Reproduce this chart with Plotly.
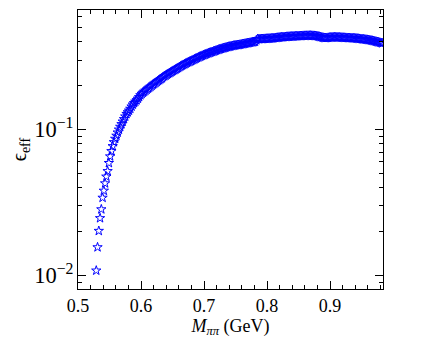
import plotly.graph_objects as go

# pi-pi invariant mass bin centres (GeV)
mass = [
    0.529, 0.531, 0.533, 0.535, 0.537, 0.539, 0.541, 0.543, 0.545, 0.547,
    0.549, 0.551, 0.553, 0.555, 0.557, 0.559, 0.561, 0.563, 0.565, 0.567,
    0.569, 0.571, 0.573, 0.575, 0.577, 0.579, 0.581, 0.583, 0.585, 0.587,
    0.589, 0.591, 0.593, 0.595, 0.597, 0.599, 0.601, 0.603, 0.605, 0.607,
    0.609, 0.611, 0.613, 0.615, 0.617, 0.619, 0.621, 0.623, 0.625, 0.627,
    0.629, 0.631, 0.633, 0.635, 0.637, 0.639, 0.641, 0.643, 0.645, 0.647,
    0.649, 0.651, 0.653, 0.655, 0.657, 0.659, 0.661, 0.663, 0.665, 0.667,
    0.669, 0.671, 0.673, 0.675, 0.677, 0.679, 0.681, 0.683, 0.685, 0.687,
    0.689, 0.691, 0.693, 0.695, 0.697, 0.699, 0.701, 0.703, 0.705, 0.707,
    0.709, 0.711, 0.713, 0.715, 0.717, 0.719, 0.721, 0.723, 0.725, 0.727,
    0.729, 0.731, 0.733, 0.735, 0.737, 0.739, 0.741, 0.743, 0.745, 0.747,
    0.749, 0.751, 0.753, 0.755, 0.757, 0.759, 0.761, 0.763, 0.765, 0.767,
    0.769, 0.771, 0.773, 0.775, 0.777, 0.779, 0.781, 0.783, 0.785, 0.787,
    0.789, 0.791, 0.793, 0.795, 0.797, 0.799, 0.801, 0.803, 0.805, 0.807,
    0.809, 0.811, 0.813, 0.815, 0.817, 0.819, 0.821, 0.823, 0.825, 0.827,
    0.829, 0.831, 0.833, 0.835, 0.837, 0.839, 0.841, 0.843, 0.845, 0.847,
    0.849, 0.851, 0.853, 0.855, 0.857, 0.859, 0.861, 0.863, 0.865, 0.867,
    0.869, 0.871, 0.873, 0.875, 0.877, 0.879, 0.881, 0.883, 0.885, 0.887,
    0.889, 0.891, 0.893, 0.895, 0.897, 0.899, 0.901, 0.903, 0.905, 0.907,
    0.909, 0.911, 0.913, 0.915, 0.917, 0.919, 0.921, 0.923, 0.925, 0.927,
    0.929, 0.931, 0.933, 0.935, 0.937, 0.939, 0.941, 0.943, 0.945, 0.947,
    0.949, 0.951, 0.953, 0.955, 0.957, 0.959, 0.961, 0.963, 0.965, 0.967,
    0.969, 0.971, 0.973, 0.975, 0.977, 0.979, 0.981, 0.983,
]

# efficiency
eff = [
    0.0108, 0.0156, 0.0202, 0.0247, 0.0284, 0.0341, 0.0381, 0.0428, 0.0476, 0.0519,
    0.0590, 0.0655, 0.0712, 0.0770, 0.0820, 0.0865, 0.0908, 0.0955, 0.1000, 0.1045,
    0.1090, 0.1135, 0.1180, 0.1230, 0.1280, 0.1315, 0.1350, 0.1390, 0.1440, 0.1485,
    0.1520, 0.1555, 0.1590, 0.1630, 0.1670, 0.1720, 0.1760, 0.1790, 0.1820, 0.1850,
    0.1880, 0.1910, 0.1940, 0.1970, 0.2000, 0.2035, 0.2065, 0.2095, 0.2125, 0.2155,
    0.2185, 0.2220, 0.2250, 0.2290, 0.2325, 0.2350, 0.2380, 0.2410, 0.2440, 0.2470,
    0.2500, 0.2530, 0.2560, 0.2590, 0.2620, 0.2650, 0.2690, 0.2720, 0.2750, 0.2780,
    0.2810, 0.2840, 0.2870, 0.2900, 0.2925, 0.2950, 0.2980, 0.3010, 0.3040, 0.3070,
    0.3100, 0.3130, 0.3160, 0.3185, 0.3210, 0.3240, 0.3265, 0.3290, 0.3315, 0.3340,
    0.3365, 0.3390, 0.3410, 0.3435, 0.3460, 0.3485, 0.3510, 0.3535, 0.3560, 0.3580,
    0.3600, 0.3620, 0.3640, 0.3660, 0.3680, 0.3700, 0.3715, 0.3730, 0.3750, 0.3765,
    0.3780, 0.3790, 0.3800, 0.3810, 0.3825, 0.3840, 0.3855, 0.3870, 0.3885, 0.3900,
    0.3915, 0.3930, 0.3945, 0.3960, 0.3975, 0.3990, 0.4010, 0.4100, 0.4180, 0.4170,
    0.4175, 0.4180, 0.4185, 0.4190, 0.4195, 0.4200, 0.4205, 0.4210, 0.4215, 0.4220,
    0.4230, 0.4240, 0.4250, 0.4260, 0.4270, 0.4280, 0.4290, 0.4300, 0.4305, 0.4310,
    0.4320, 0.4330, 0.4335, 0.4340, 0.4345, 0.4350, 0.4355, 0.4360, 0.4365, 0.4370,
    0.4375, 0.4380, 0.4385, 0.4390, 0.4395, 0.4400, 0.4400, 0.4405, 0.4405, 0.4410,
    0.4410, 0.4405, 0.4400, 0.4395, 0.4390, 0.4375, 0.4355, 0.4335, 0.4310, 0.4290,
    0.4270, 0.4255, 0.4250, 0.4255, 0.4265, 0.4275, 0.4285, 0.4290, 0.4295, 0.4300,
    0.4300, 0.4295, 0.4290, 0.4285, 0.4280, 0.4275, 0.4270, 0.4265, 0.4260, 0.4255,
    0.4250, 0.4245, 0.4240, 0.4235, 0.4230, 0.4225, 0.4220, 0.4210, 0.4200, 0.4190,
    0.4180, 0.4170, 0.4160, 0.4150, 0.4140, 0.4130, 0.4115, 0.4100, 0.4085, 0.4070,
    0.4050, 0.4030, 0.4010, 0.3990, 0.3970, 0.3950, 0.3930, 0.3910,
]

font_name = "Liberation Serif, Times New Roman, serif"

fig = go.Figure(go.Scatter(
    x=mass,
    y=eff,
    mode="markers",
    marker=dict(symbol="star-open", size=7, color="#0000ff", line=dict(width=1, color="#0000ff")),
    showlegend=False,
))

# page body keeps its default 8px margin, so the figure is 8px smaller
fig.update_layout(
    width=428,
    height=337,
    margin=dict(l=70, r=53, t=2, b=56),
    paper_bgcolor="white",
    plot_bgcolor="white",
    font=dict(family=font_name, size=18, color="black"),
)

fig.update_xaxes(
    range=[0.5, 0.984],
    dtick=0.1,
    tickformat=".1f",
    ticks="inside",
    ticklen=8,
    tickcolor="black",
    showline=True,
    linecolor="black",
    linewidth=1,
    mirror="allticks",
    showgrid=False,
    zeroline=False,
    automargin=False,
    minor=dict(dtick=0.02, ticks="inside", ticklen=4, tickcolor="black", showgrid=False),
    title=dict(text="<i>M</i><sub><i>ππ</i></sub> (GeV)", font=dict(size=18), standoff=4),
)

fig.update_yaxes(
    type="log",
    range=[-2.093, -0.18],
    dtick=1,
    exponentformat="power",
    ticks="inside",
    ticklen=8,
    tickcolor="black",
    showline=True,
    linecolor="black",
    linewidth=1,
    mirror="allticks",
    showgrid=False,
    zeroline=False,
    automargin=False,
    minor=dict(dtick="D1", ticks="inside", ticklen=4, tickcolor="black", showgrid=False),
    title=dict(text="ϵ<sub>eff</sub>", font=dict(size=20), standoff=6),
)

fig.write_html("out.html")
